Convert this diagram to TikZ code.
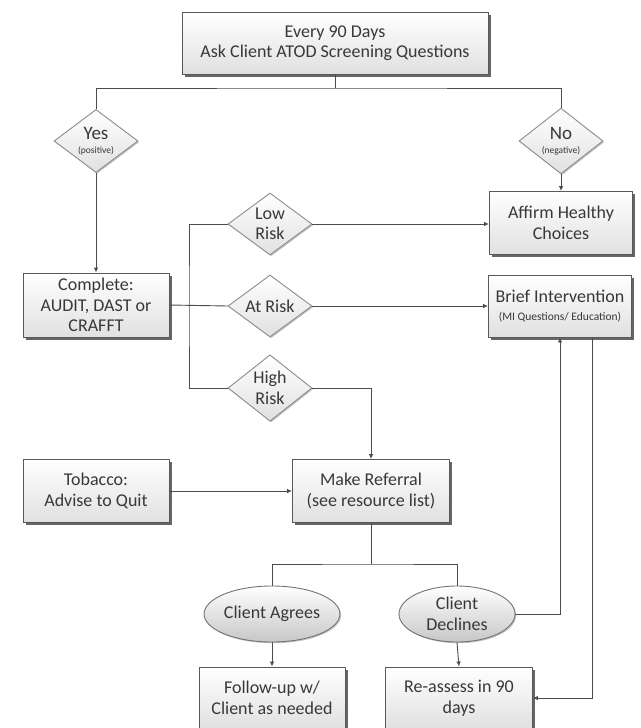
\documentclass[tikz,border=0pt]{standalone}
\usepackage{fontspec}
\setmainfont{Carlito}
\usetikzlibrary{shapes.geometric,shadows,arrows.meta}
\begin{document}
\begin{tikzpicture}[x=1pt,y=-1pt,
  font=\fontsize{18}{20.5}\selectfont,
  every node/.style={text=black!78},
  conn/.style={draw=black!70,line width=0.9pt},
  arr/.style={conn,-{Latex[length=5pt,width=4.5pt]}},
  procbox/.style={draw=black!65,line width=0.9pt,rectangle,align=center,inner sep=2pt,
    top color=white,bottom color=black!12,
    drop shadow={shadow xshift=2.5pt,shadow yshift=-2.5pt,fill=black!75,opacity=0.8}},
  decis/.style={draw=black!45,line width=0.9pt,diamond,align=center,inner sep=0pt,
    minimum width=84pt,minimum height=62pt,top color=white,bottom color=black!12,
    drop shadow={shadow xshift=1.2pt,shadow yshift=-1.2pt,fill=black!40,opacity=0.6}},
  oval/.style={draw=black!55,line width=0.9pt,ellipse,align=center,inner sep=0pt,
    minimum width=116pt,minimum height=56pt,top color=white,bottom color=black!22,
    drop shadow={shadow xshift=1.2pt,shadow yshift=-1.2pt,fill=black!40,opacity=0.6}}
]
\useasboundingbox (0,0) rectangle (640,728);

% nodes
\node[procbox,minimum width=306pt,minimum height=62pt] (top) at (335,43)
  {Every 90 Days\\Ask Client ATOD Screening Questions};
\node[decis] (yes) at (96,141) {{\fontsize{19}{20}\selectfont Yes}\\[-7pt]{\fontsize{9.5}{10}\selectfont (positive)}};
\node[decis] (no) at (561,141) {{\fontsize{19}{20}\selectfont No}\\[-7pt]{\fontsize{9.5}{10}\selectfont (negative)}};
\node[procbox,minimum width=143pt,minimum height=63pt] (aff) at (561,223)
  {Affirm Healthy\\Choices};
\node[procbox,minimum width=143pt,minimum height=62pt] (brief) at (560,306)
  {Brief Intervention\\[-2pt]{\fontsize{11.5}{12}\selectfont (MI Questions/ Education)}};
\node[procbox,minimum width=146pt,minimum height=64pt] (comp) at (96,305)
  {Complete:\\AUDIT, DAST or\\CRAFFT};
\node[decis] (low) at (270,224) {Low\\Risk};
\node[decis] (at) at (270,306) {At Risk};
\node[decis] (high) at (270,388) {High\\Risk};
\node[procbox,minimum width=157pt,minimum height=63pt] (ref) at (371,491)
  {Make Referral\\(see resource list)};
\node[procbox,minimum width=146pt,minimum height=63pt] (tob) at (96,491)
  {Tobacco:\\Advise to Quit};
\node[oval] (agr) at (272,614) {Client Agrees};
\node[oval] (dec) at (457,614) {Client\\Declines};
\node[procbox,minimum width=146pt,minimum height=62pt] (fol) at (272,698)
  {Follow-up w/\\Client as needed};
\node[procbox,minimum width=147pt,minimum height=62pt] (rea) at (459,698)
  {Re-assess in 90\\days};

% coordinates
\coordinate (t1) at (335,88);
\coordinate (b1) at (189,306);
\coordinate (r1) at (371,564);
\coordinate (bd) at (592,337);

% connectors
\draw[conn] (top.south) -- (t1);
\draw[conn] (yes.north) |- (t1) -| (no.north);
\draw[arr] (no.south) -- (aff.north);
\draw[arr] (yes.south) -- (comp.north);
\draw[conn] (comp.east) -- (at.west);
\draw[conn] (low.west) -| (b1) |- (high.west);
\draw[arr] (low.east) -- (low.east -| aff.west);
\draw[arr] (at.east) -- (brief.west);
\draw[arr] (high.east) -| (ref.north);
\draw[arr] (tob.east) -- (ref.west);
\draw[conn] (ref.south) -- (r1);
\draw[conn] (agr.north) |- (r1) -| (dec.north);
\draw[arr] (dec.east) -| (brief.south);
\draw[arr] (agr.south) -- (fol.north);
\draw[arr] (dec.south) -- (rea.north);
\draw[arr] (bd) |- (rea.east);
\end{tikzpicture}
\end{document}
